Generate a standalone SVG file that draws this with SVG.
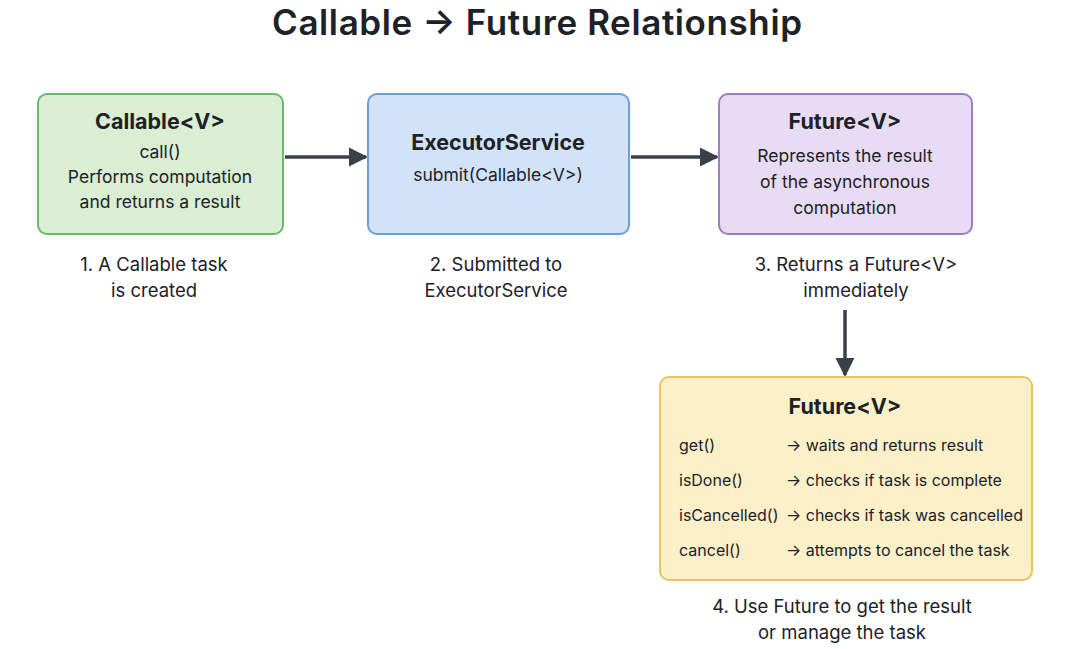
<svg xmlns="http://www.w3.org/2000/svg" width="1074" height="649" viewBox="0 0 1074 649">
<defs>
<marker id="ah" viewBox="0 0 10 10" refX="9" refY="5" markerWidth="5.5" markerHeight="5.5" orient="auto" markerUnits="strokeWidth">
<path d="M0,0 L10,5 L0,10 z" fill="#3a4049"/>
</marker>
<style>
text{font-family:Inter,"Noto Sans","Liberation Sans",sans-serif;fill:#1d2128}
.t{font-size:35px;font-weight:600;text-anchor:middle}
.h{font-size:21.5px;font-weight:700;text-anchor:middle}
.b{font-size:17.5px;text-anchor:middle}
.l{font-size:18.5px;text-anchor:middle}
.r{font-size:16px}
.c{fill:none;stroke:#3a4049;stroke-width:3.5;marker-end:url(#ah)}
</style>
</defs>
<rect width="1074" height="649" fill="#ffffff"/>
<text class="t" x="537" y="35" textLength="530" lengthAdjust="spacing">Callable → Future Relationship</text>
<g id="connectors">
<line class="c" x1="285" y1="157" x2="366" y2="157"/>
<line class="c" x1="631" y1="157" x2="717" y2="157"/>
<line class="c" x1="845" y1="310" x2="845" y2="375"/>
</g>
<g id="callable">
<rect x="38" y="94" width="245" height="140" rx="9" fill="#d9eed2" stroke="#6cb96a" stroke-width="2"/>
<text class="h" x="160" y="129">Callable&lt;V&gt;</text>
<text class="b" x="160" y="158">call()</text>
<text class="b" x="160" y="183">Performs computation</text>
<text class="b" x="160" y="208">and returns a result</text>
</g>
<g id="executor">
<rect x="368" y="94" width="261" height="140" rx="9" fill="#d3e3f7" stroke="#6c9fd9" stroke-width="2"/>
<text class="h" x="498" y="150">ExecutorService</text>
<text class="b" x="498" y="181">submit(Callable&lt;V&gt;)</text>
</g>
<g id="future">
<rect x="719" y="94" width="253" height="140" rx="9" fill="#e8dcf4" stroke="#9b7dc1" stroke-width="2"/>
<text class="h" x="845" y="129">Future&lt;V&gt;</text>
<text class="b" x="845" y="162">Represents the result</text>
<text class="b" x="845" y="188">of the asynchronous</text>
<text class="b" x="845" y="214">computation</text>
</g>
<g id="future-api">
<rect x="660" y="377" width="372" height="203" rx="9" fill="#fcf0c9" stroke="#e8c35f" stroke-width="2"/>
<text class="h" x="845" y="414">Future&lt;V&gt;</text>
<text class="r" x="679" y="451">get()</text>
<text class="r" x="786" y="451">→ waits and returns result</text>
<text class="r" x="679" y="486">isDone()</text>
<text class="r" x="786" y="486">→ checks if task is complete</text>
<text class="r" x="679" y="521">isCancelled()</text>
<text class="r" x="786" y="521">→ checks if task was cancelled</text>
<text class="r" x="679" y="556">cancel()</text>
<text class="r" x="786" y="556">→ attempts to cancel the task</text>
</g>
<g id="label1">
<text class="l" x="154" y="271">1. A Callable task</text>
<text class="l" x="154" y="297">is created</text>
</g>
<g id="label2">
<text class="l" x="496" y="271">2. Submitted to</text>
<text class="l" x="496" y="297">ExecutorService</text>
</g>
<g id="label3">
<text class="l" x="856" y="271">3. Returns a Future&lt;V&gt;</text>
<text class="l" x="856" y="297">immediately</text>
</g>
<g id="label4">
<text class="l" x="842" y="613">4. Use Future to get the result</text>
<text class="l" x="842" y="639">or manage the task</text>
</g>
</svg>
